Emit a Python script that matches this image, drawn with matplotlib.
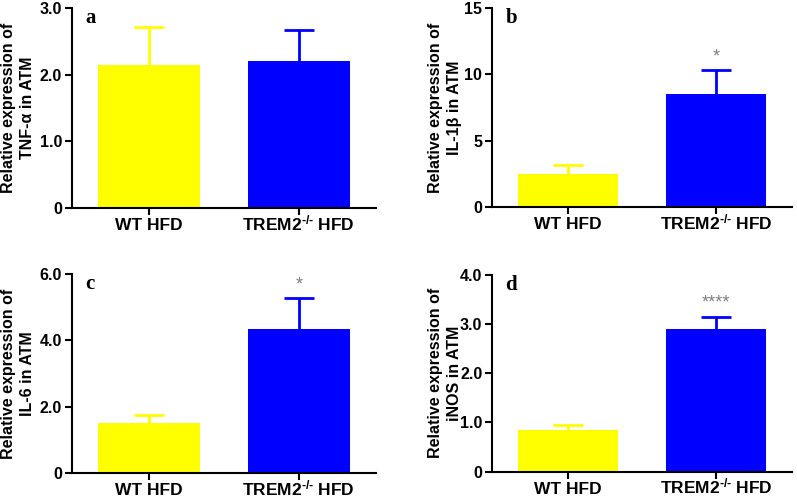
import matplotlib
matplotlib.use("Agg")
from matplotlib import pyplot as plt

plt.rcParams["font.family"] = ["Liberation Sans", "DejaVu Sans"]
plt.rcParams["font.weight"] = "bold"
plt.rcParams["mathtext.fontset"] = "custom"
plt.rcParams["mathtext.rm"] = "Liberation Sans:bold"
plt.rcParams["mathtext.default"] = "rm"

# data
groups = ["WT HFD", "TREM2$^{\\text{-/-}}$ HFD"]
panel_letters = ["a", "b", "c", "d"]
ylabels = ["Relative expression of\nTNF-α in ATM",
           "Relative expression of\nIL-1β in ATM",
           "Relative expression of\nIL-6 in ATM",
           "Relative expression of\niNOS in ATM"]
tnf_mean = [2.15, 2.2]
tnf_sem = [0.57, 0.47]
il1b_mean = [2.45, 8.5]
il1b_sem = [0.75, 1.85]
il6_mean = [1.52, 4.33]
il6_sem = [0.23, 0.94]
inos_mean = [0.85, 2.9]
inos_sem = [0.1, 0.25]
stars = ["", "*", "*", "****"]
star_y = [0, 11.3, 5.67, 3.44]
yticks = [[0, 1, 2, 3], [0, 5, 10, 15], [0, 2, 4, 6], [0, 1, 2, 3, 4]]
yticklabels = [["0", "1.0", "2.0", "3.0"], ["0", "5", "10", "15"],
               ["0", "2.0", "4.0", "6.0"], ["0", "1.0", "2.0", "3.0", "4.0"]]

means = [tnf_mean, il1b_mean, il6_mean, inos_mean]
sems = [tnf_sem, il1b_sem, il6_sem, inos_sem]
colors = ["#FFFF00", "#0000FF"]

# axes boxes in figure fraction
boxes = [[0.0903, 0.584, 0.3814, 0.400],
         [0.6173, 0.586, 0.3764, 0.398],
         [0.0903, 0.054, 0.3814, 0.398],
         [0.6173, 0.057, 0.3764, 0.393]]

fig = plt.figure(figsize=(7.97, 5.0), dpi=100)

for i in range(4):
    ax = fig.add_axes(boxes[i])
    x = [0, 1]
    ax.bar(x, means[i], width=0.68, color=colors, zorder=2)
    # only the upper half of the error bar, like GraphPad
    for j in range(2):
        top = means[i][j] + sems[i][j]
        ax.vlines(x[j], means[i][j], top, color=colors[j], lw=2, zorder=1)
        ax.hlines(top, x[j] - 0.1, x[j] + 0.1, color=colors[j], lw=2, zorder=1)
    ax.set_xlim(-0.515, 1.515)
    ax.set_ylim(yticks[i][0], yticks[i][-1])
    ax.set_yticks(yticks[i])
    ax.set_yticklabels(yticklabels[i])
    ax.set_xticks(x)
    ax.set_xticklabels(groups)
    ax.tick_params(axis="y", labelsize=11.5, width=1.5, length=5, pad=2)
    ax.tick_params(axis="x", labelsize=12.5, width=1.5, length=5, pad=11)
    # same baseline for both group names
    for lbl in ax.get_xticklabels():
        lbl.set_va("baseline")
    for s in ["top", "right"]:
        ax.spines[s].set_visible(False)
    for s in ["left", "bottom"]:
        ax.spines[s].set_linewidth(1.5)
    ax.set_ylabel(ylabels[i], fontsize=11.5, fontweight="bold", linespacing=1.3)
    if i % 2 == 0:
        ax.yaxis.set_label_coords(-0.122, 0.5)
    else:
        ax.yaxis.set_label_coords(-0.1, 0.5)
    ax.text(0.045, 1.0, panel_letters[i], transform=ax.transAxes, ha="left", va="top",
            fontsize=15, fontweight="bold", family="Liberation Serif")
    if stars[i]:
        ax.text(1, star_y[i], stars[i], ha="center", va="center", fontsize=13,
                color="#808080", fontweight="normal")

plt.savefig("out.png", dpi=100)
